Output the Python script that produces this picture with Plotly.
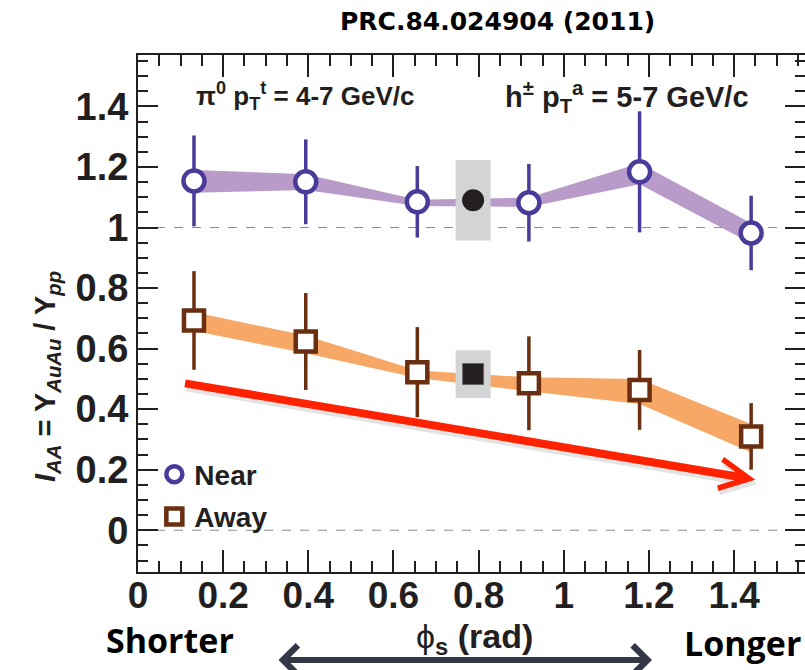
import plotly.graph_objects as go

# ---------------- data ----------------
phi_s = [0.1315, 0.394, 0.656, 0.918, 1.178, 1.440]

near_iaa = [1.154, 1.151, 1.085, 1.082, 1.184, 0.982]
near_stat = [0.150, 0.140, 0.118, 0.128, 0.200, 0.123]
near_sys_hi = [1.190, 1.176, 1.092, 1.099, 1.212, 1.014]
near_sys_lo = [1.115, 1.124, 1.071, 1.068, 1.143, 0.948]

away_iaa = [0.693, 0.6235, 0.522, 0.4855, 0.4636, 0.310]
away_stat = [0.163, 0.160, 0.149, 0.155, 0.132, 0.110]
away_sys_hi = [0.7205, 0.643, 0.5275, 0.505, 0.500, 0.351]
away_sys_lo = [0.658, 0.585, 0.503, 0.459, 0.417, 0.257]

incl_phi = 0.787
incl_halfwidth = 0.041
near_incl = 1.090
near_incl_sys = 0.133
away_incl = 0.516
away_incl_sys = 0.079

ref_lines = [0.0, 1.0]
trend_start = (0.107, 0.486)
trend_end = (1.450, 0.167)

x_range = [0.0, 1.5665]
y_range = [-0.138, 1.570]
x_ticks = [0, 0.2, 0.4, 0.6, 0.8, 1.0, 1.2, 1.4]
x_ticklabels = ["0", "0.2", "0.4", "0.6", "0.8", "1", "1.2", "1.4"]
y_ticks = [0, 0.2, 0.4, 0.6, 0.8, 1.0, 1.2, 1.4]
y_ticklabels = ["0", "0.2", "0.4", "0.6", "0.8", "1", "1.2", "1.4"]

# ---------------- style ----------------
W, H = 805, 670
ML, MR, MT, MB = 138, 0, 55, 98
PW, PH = W - ML - MR, H - MT - MB


def px(xp):
    return (xp - ML) / PW


def py(yp):
    return (H - MB - yp) / PH


NEAR_C = "#4a3a9a"
NEAR_BAND = "#b89bc9"
AWAY_C = "#6a2e10"
AWAY_BAND = "#f7a866"
BOX_C = "#d3d4d6"
RED = "#ff2200"
DARK = "#231f20"
HELV = "Liberation Sans, Arial, sans-serif"
WIDE = "DejaVu Sans, Open Sans, sans-serif"
CAL = "Open Sans, Liberation Sans, sans-serif"

fig = go.Figure()

# systematic bands
fig.add_trace(go.Scatter(
    x=phi_s + phi_s[::-1], y=near_sys_hi + near_sys_lo[::-1],
    fill="toself", fillcolor=NEAR_BAND, line=dict(width=0),
    mode="lines", hoverinfo="skip", showlegend=False))
fig.add_trace(go.Scatter(
    x=phi_s + phi_s[::-1], y=away_sys_hi + away_sys_lo[::-1],
    fill="toself", fillcolor=AWAY_BAND, line=dict(width=0),
    mode="lines", hoverinfo="skip", showlegend=False))

# inclusive grey boxes
for yc, ys in [(near_incl, near_incl_sys), (away_incl, away_incl_sys)]:
    x0, x1 = incl_phi - incl_halfwidth, incl_phi + incl_halfwidth
    fig.add_trace(go.Scatter(
        x=[x0, x1, x1, x0, x0], y=[yc - ys, yc - ys, yc + ys, yc + ys, yc - ys],
        fill="toself", fillcolor=BOX_C, line=dict(width=0),
        mode="lines", hoverinfo="skip", showlegend=False))

# inclusive points
fig.add_trace(go.Scatter(
    x=[incl_phi], y=[near_incl], mode="markers",
    marker=dict(symbol="circle", size=22, color=DARK), showlegend=False))
fig.add_trace(go.Scatter(
    x=[incl_phi], y=[away_incl], mode="markers",
    marker=dict(symbol="square", size=21, color=DARK,
                line=dict(color="#666666", width=1)), showlegend=False))

# data points
fig.add_trace(go.Scatter(
    x=phi_s, y=near_iaa, mode="markers", name="Near",
    error_y=dict(type="data", array=near_stat, visible=True,
                 color=NEAR_C, thickness=3.5, width=0),
    marker=dict(symbol="circle", size=21, color="white",
                line=dict(color=NEAR_C, width=4.5)),
    legendgroup="n"))
fig.add_trace(go.Scatter(
    x=phi_s, y=away_iaa, mode="markers", name="Away",
    error_y=dict(type="data", array=away_stat, visible=True,
                 color=AWAY_C, thickness=3.5, width=0),
    marker=dict(symbol="square", size=20, color="white",
                line=dict(color=AWAY_C, width=4.5)),
    legendgroup="a"))

# reference dashed lines
for yv in ref_lines:
    fig.add_shape(type="line", xref="x domain", yref="y", x0=0, x1=1,
                  y0=yv, y1=yv, line=dict(color="#8a8a8a", width=1, dash="dash"),
                  layer="below")

# red trend arrow (with soft shadow)
fig.add_annotation(x=trend_end[0] + 0.004, y=trend_end[1] - 0.014,
                   ax=trend_start[0] + 0.004, ay=trend_start[1] - 0.014,
                   xref="x", yref="y", axref="x", ayref="y", text="",
                   showarrow=True, arrowhead=5, arrowsize=0.72, arrowwidth=8,
                   arrowcolor="rgba(0,0,0,0.10)", standoff=0)
fig.add_annotation(x=trend_end[0], y=trend_end[1], ax=trend_start[0], ay=trend_start[1],
                   xref="x", yref="y", axref="x", ayref="y", text="",
                   showarrow=True, arrowhead=5, arrowsize=0.72, arrowwidth=8,
                   arrowcolor=RED, standoff=0)

# in-plot labels
fig.add_annotation(x=px(305), y=py(96), xref="paper", yref="paper",
                   xanchor="center", yanchor="middle",
                   text="<b>π<sup>0</sup> p<sub>T</sub><sup>t</sup> = 4-7 GeV/c</b>",
                   showarrow=False, font=dict(family=HELV, size=26, color=DARK))
fig.add_annotation(x=px(627), y=py(97), xref="paper", yref="paper",
                   xanchor="center", yanchor="middle",
                   text="<b>h<sup>±</sup> p<sub>T</sub><sup>a</sup> = 5-7 GeV/c</b>",
                   showarrow=False, font=dict(family=HELV, size=29, color=DARK))

# y-axis title (rotated)
fig.add_annotation(x=px(47), y=py(377), xref="paper", yref="paper",
                   xanchor="center", yanchor="middle", textangle=-90,
                   text="<b><i>I<sub>AA</sub></i> = Y<sub><i>AuAu</i></sub> / Y<sub><i>pp</i></sub></b>",
                   showarrow=False, font=dict(family=HELV, size=29, color=DARK))

# title
fig.add_annotation(x=px(497), y=py(21), xref="paper", yref="paper",
                   xanchor="center", yanchor="middle",
                   text="<b>PRC.84.024904 (2011)</b>", showarrow=False,
                   font=dict(family=WIDE, size=25, color="black"))

# bottom labels
fig.add_annotation(x=px(170), y=py(640), xref="paper", yref="paper",
                   xanchor="center", yanchor="middle",
                   text="<b>Shorter</b>", showarrow=False,
                   font=dict(family=CAL, size=34, color="black"))
fig.add_annotation(x=px(742), y=py(643), xref="paper", yref="paper",
                   xanchor="center", yanchor="middle",
                   text="<b>Longer</b>", showarrow=False,
                   font=dict(family=CAL, size=34, color="black"))
fig.add_annotation(x=px(474), y=py(638), xref="paper", yref="paper",
                   xanchor="center", yanchor="middle",
                   text="ϕ<b><sub>s</sub> (rad)</b>", showarrow=False,
                   font=dict(family=HELV, size=34, color=DARK))
fig.add_annotation(x=px(652), y=py(660), xref="paper", yref="paper",
                   ax=-375, ay=0, text="", showarrow=True, arrowside="end+start",
                   arrowhead=4, startarrowhead=4, arrowsize=0.95, startarrowsize=0.95,
                   arrowwidth=6, arrowcolor="#343846", standoff=0, startstandoff=0)

fig.update_layout(
    width=W, height=H,
    margin=dict(l=ML, r=MR, t=MT, b=MB, autoexpand=False),
    paper_bgcolor="white", plot_bgcolor="white",
    showlegend=True,
    legend=dict(x=0.0245, y=0.237, xanchor="left", yanchor="top",
                font=dict(family=HELV, size=28, color=DARK, weight="bold"),
                bgcolor="rgba(0,0,0,0)", tracegroupgap=3, itemsizing="trace"),
    xaxis=dict(range=x_range, showgrid=False, zeroline=False,
               showline=True, linecolor=DARK, linewidth=2, mirror="allticks",
               ticks="inside", ticklen=22, tickwidth=2, tickcolor=DARK,
               tickvals=x_ticks, ticktext=x_ticklabels, ticklabelstandoff=-10,
               tickfont=dict(family=HELV, size=37, color=DARK, weight="bold"),
               minor=dict(dtick=0.05, tick0=0, ticks="inside", ticklen=11, tickwidth=2, tickcolor=DARK)),
    yaxis=dict(range=y_range, showgrid=False, zeroline=False,
               showline=True, linecolor=DARK, linewidth=2, mirror="allticks",
               ticks="inside", ticklen=20, tickwidth=2, tickcolor=DARK,
               tickvals=y_ticks, ticktext=y_ticklabels,
               tickfont=dict(family=HELV, size=38, color=DARK, weight="bold"),
               minor=dict(dtick=0.05, tick0=0, ticks="inside", ticklen=10, tickwidth=2, tickcolor=DARK)),
)

fig.write_html("out.html",
               config={"displayModeBar": False},
               post_script="document.body.style.margin='0';document.body.style.padding='0';")
